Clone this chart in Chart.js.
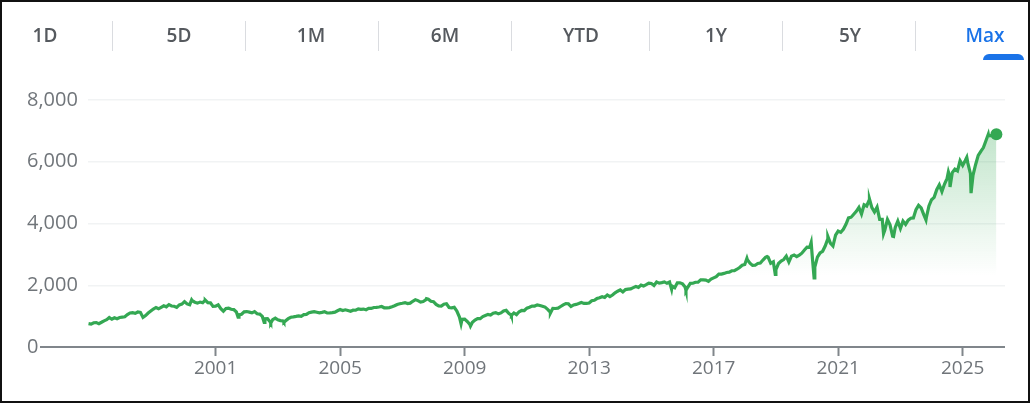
<!DOCTYPE html>
<html>
<head>
<meta charset="utf-8">
<script src="https://cdn.jsdelivr.net/npm/chart.js@4.4.1/dist/chart.umd.min.js"></script>
<style>
  body { margin: 0; background: #fff; font-family: 'Open Sans', sans-serif; }
  .frame { position: absolute; left: 0; top: 0; width: 1030px; height: 403px; box-sizing: border-box; border: 2px solid #111; }
  .tab { position: absolute; top: 23px; transform: translateX(-50%); font-size: 19px; font-weight: 600; color: #55595e; line-height: 24px; white-space: nowrap; }
  .tab.active { color: #1a73e8; }
  .sep { position: absolute; top: 21px; width: 1px; height: 30px; background: #dadce0; }
  .bar { position: absolute; left: 983px; top: 54px; width: 41px; height: 6px; background: #1a73e8; border-radius: 6px 6px 0 0; }
  .chart-box { position: absolute; left: 0; top: 0; width: 1034px; height: 405px; }
</style>
</head>
<body>
<div class="chart-box"><canvas id="GraphLine"></canvas></div>
<div class="frame"></div>
<div class="tab" style="left:45px">1D</div>
<div class="sep" style="left:112px"></div>
<div class="tab" style="left:179px">5D</div>
<div class="sep" style="left:245px"></div>
<div class="tab" style="left:311px">1M</div>
<div class="sep" style="left:378px"></div>
<div class="tab" style="left:445px">6M</div>
<div class="sep" style="left:511px"></div>
<div class="tab" style="left:581px">YTD</div>
<div class="sep" style="left:649px"></div>
<div class="tab" style="left:716px">1Y</div>
<div class="sep" style="left:782px"></div>
<div class="tab" style="left:850px">5Y</div>
<div class="sep" style="left:915px"></div>
<div class="tab active" style="left:985px">Max</div>
<div class="bar"></div>
<script>
// month-end closes, first one is Nov 1996
const firstMonth = '1996-11';
const monthlyCloses = [
    757, 741,
    786, 791, 757, 801, 848, 885, 954, 899, 947, 915, 955, 970,
    980, 1049, 1102, 1112, 1091, 1134, 1121, 957, 1017, 1099, 1164, 1229,
    1280, 1238, 1286, 1335, 1302, 1373, 1329, 1320, 1283, 1363, 1389, 1469,
    1394, 1366, 1499, 1452, 1421, 1455, 1431, 1518, 1437, 1429, 1315, 1320,
    1366, 1240, 1160, 1249, 1256, 1224, 1211, 1134, 1041, 1060, 1139, 1148,
    1130, 1107, 1147, 1077, 1067, 990, 912, 916, 815, 886, 936, 880,
    856, 841, 848, 917, 964, 975, 990, 1008, 996, 1051, 1058, 1112,
    1131, 1145, 1126, 1107, 1121, 1141, 1102, 1104, 1115, 1130, 1174, 1212,
    1181, 1204, 1181, 1157, 1192, 1191, 1234, 1220, 1229, 1207, 1249, 1248,
    1280, 1281, 1295, 1311, 1270, 1270, 1277, 1304, 1336, 1378, 1401, 1418,
    1438, 1407, 1421, 1482, 1531, 1503, 1455, 1474, 1527, 1549, 1481, 1468,
    1379, 1331, 1323, 1386, 1400, 1280, 1267, 1283, 1166, 969, 896, 903,
    826, 735, 798, 873, 919, 919, 987, 1021, 1057, 1036, 1096, 1115,
    1074, 1104, 1169, 1187, 1089, 1031, 1102, 1049, 1141, 1183, 1181, 1258,
    1286, 1327, 1326, 1364, 1345, 1321, 1292, 1219, 1131, 1253, 1247, 1258,
    1312, 1366, 1408, 1398, 1310, 1362, 1379, 1407, 1441, 1412, 1416, 1426,
    1498, 1515, 1569, 1598, 1631, 1606, 1686, 1633, 1682, 1757, 1806, 1848,
    1783, 1859, 1872, 1884, 1924, 1960, 1931, 2003, 1972, 2018, 2068, 2059,
    1995, 2105, 2068, 2086, 2107, 2063, 2104, 1972, 1920, 2079, 2080, 2044,
    1940, 1932, 2060, 2065, 2097, 2099, 2174, 2171, 2168, 2126, 2199, 2239,
    2279, 2364, 2363, 2384, 2412, 2423, 2470, 2472, 2519, 2575, 2648, 2674,
    2824, 2714, 2641, 2648, 2705, 2718, 2816, 2902, 2914, 2712, 2760, 2507,
    2704, 2784, 2834, 2946, 2752, 2942, 2980, 2926, 2977, 3038, 3141, 3231,
    3226, 2954, 2585, 2912, 3044, 3100, 3271, 3500, 3363, 3270, 3622, 3756,
    3714, 3811, 3973, 4181, 4204, 4298, 4395, 4523, 4308, 4605, 4567, 4766,
    4516, 4374, 4530, 4132, 4132, 3785, 4130, 3955, 3586, 3872, 4080, 3840,
    4077, 3970, 4109, 4169, 4180, 4450, 4589, 4508, 4288, 4194, 4568, 4770,
    4846, 5096, 5254, 5036, 5278, 5460, 5522, 5648, 5762, 5705, 6032, 5882,
    6041, 5955, 5612, 5569, 5912, 6205, 6339, 6460, 6688, 6840, 6849, 6845,
    6890
];

// highs and lows in between month ends
const swingDates = ['2000-03-24', '2000-09-01', '2001-09-21', '2002-07-23', '2002-10-09', '2003-03-11',
    '2007-10-09', '2008-11-20', '2009-03-09', '2010-07-02', '2011-10-03', '2015-08-25', '2016-02-11',
    '2018-01-26', '2018-09-20', '2018-12-24', '2020-02-19', '2020-03-23', '2020-09-02', '2022-01-03',
    '2022-06-16', '2022-10-12', '2023-10-27', '2024-07-16', '2024-08-05', '2025-02-19', '2025-04-08',
    '2025-10-28'];
const swingValues = [1527, 1521, 966, 797, 777, 800,
    1565, 752, 677, 1023, 1099, 1868, 1829,
    2873, 2931, 2351, 3386, 2237, 3580, 4797,
    3667, 3577, 4117, 5667, 5186, 6144, 4983,
    6891];

const yearTicks = [2001, 2005, 2009, 2013, 2017, 2021, 2025];
const valueTicks = [0, 2000, 4000, 6000, 8000];

function toYear(date) {
    const [y, m, d] = date.split('-').map(Number);
    return y + (m - 1) / 12 + ((d || 1) - 1) / 365.25;
}

let points = [];
const [startY, startM] = firstMonth.split('-').map(Number);
monthlyCloses.forEach((value, i) => {
    points.push({ x: startY + (startM + i) / 12, y: value });
});
swingDates.forEach((date, i) => {
    points.push({ x: toYear(date), y: swingValues[i] });
});
points.sort((a, b) => a.x - b.x);

const green = '#34a853';
const lastIndex = points.length - 1;

// fill fades out going down
function fillGradient(context) {
    const chart = context.chart;
    if (!chart.chartArea) return 'rgba(52,168,83,0)';
    const y = chart.scales.y;
    const g = chart.ctx.createLinearGradient(0, y.getPixelForValue(7000), 0, y.getPixelForValue(2300));
    g.addColorStop(0, 'rgba(52,168,83,0.30)');
    g.addColorStop(1, 'rgba(52,168,83,0)');
    return g;
}

// zero line runs out under the y labels
const baseLine = {
    id: 'baseLine',
    beforeDatasetsDraw(chart) {
        const ctx = chart.ctx;
        const y0 = chart.scales.y.getPixelForValue(0);
        ctx.save();
        ctx.strokeStyle = '#80868b';
        ctx.lineWidth = 2;
        ctx.beginPath();
        ctx.moveTo(40, y0);
        ctx.lineTo(chart.chartArea.right, y0);
        ctx.stroke();
        ctx.restore();
    }
};

new Chart(document.getElementById('GraphLine'), {
    type: 'line',
    data: {
        datasets: [{
            data: points,
            borderColor: green,
            borderWidth: 3.2,
            backgroundColor: fillGradient,
            fill: 'origin',
            tension: 0,
            pointRadius: (c) => c.dataIndex === lastIndex ? 6 : 0,
            pointBackgroundColor: green,
            pointBorderWidth: 0
        }]
    },
    options: {
        responsive: true,
        maintainAspectRatio: false,
        animation: false,
        layout: { padding: { top: 100, left: 27, right: 29, bottom: 0 } },
        plugins: { legend: { display: false }, tooltip: { enabled: false } },
        scales: {
            x: {
                type: 'linear',
                min: 1996.9,
                max: 2026.36,
                afterBuildTicks: (s) => { s.ticks = yearTicks.map(v => ({ value: v })); },
                afterFit: (s) => { s.height = 58; },
                grid: { drawOnChartArea: false, drawTicks: true, tickLength: 9, tickWidth: 2, tickColor: '#80868b' },
                border: { display: false },
                ticks: { color: '#70757a', font: { family: 'Open Sans', size: 19 }, padding: 1, maxRotation: 0, autoSkip: false, callback: (v) => String(v) }
            },
            y: {
                min: 0,
                max: 8000,
                afterBuildTicks: (s) => { s.ticks = valueTicks.map(v => ({ value: v })); },
                afterFit: (s) => { s.width = 61; },
                grid: { color: '#f1f3f4', lineWidth: 1.5, drawTicks: false },
                border: { display: false },
                ticks: { color: '#70757a', font: { family: 'Open Sans', size: 20 }, crossAlign: 'far', callback: (v) => v.toLocaleString('en-US') }
            }
        }
    },
    plugins: [baseLine]
});
</script>
</body>
</html>
